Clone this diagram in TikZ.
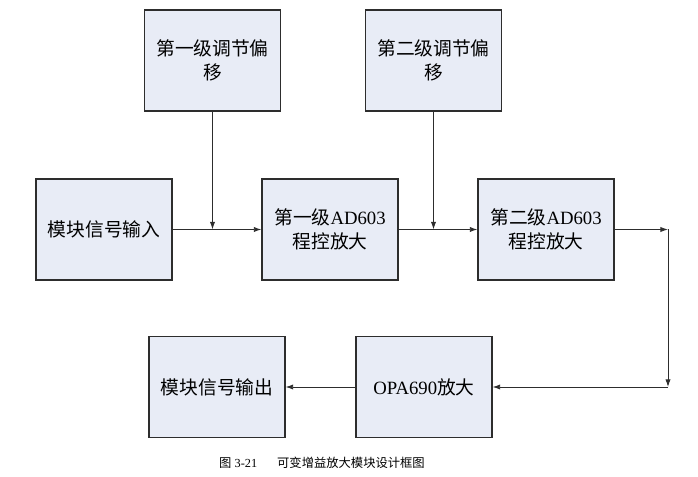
\documentclass[tikz,border=0pt]{standalone}
\usepackage{fontspec}
\setmainfont{Liberation Serif}
\newfontfamily\cjk{Noto Sans CJK SC}
\newfontfamily\lat{Liberation Serif}
\usetikzlibrary{arrows.meta}
\definecolor{boxfill}{RGB}{232,236,246}
\definecolor{boxline}{RGB}{45,45,45}
\tikzset{
  blockbox/.style={draw=boxline,line width=1pt,fill=boxfill,minimum width=40.8mm,minimum height=30.3mm,inner sep=0pt,align=center,font=\fontsize{16}{20.5}\selectfont\cjk},
  sig/.style={draw=boxline,line width=0.8pt,-{Latex[length=6.5pt,width=4.5pt]}}
}
\begin{document}
\begin{tikzpicture}[x=0.3mm,y=-0.3mm]
\useasboundingbox (0,0) rectangle (698,477);
\draw (212.5,60.5) node[blockbox](offsetone) {第一级调节偏\\移};
\draw (433.5,60.5) node[blockbox](offsettwo) {第二级调节偏\\移};
\draw (104,229.5) node[blockbox](sigin) {模块信号输入};
\draw (330,229.5) node[blockbox](ampone) {第一级{\lat AD603}\\程控放大};
\draw (546,229.5) node[blockbox](amptwo) {第二级{\lat AD603}\\程控放大};
\draw (424,387) node[blockbox](opa) {{\lat OPA690}放大};
\draw (217,387) node[blockbox](sigout) {模块信号输出};
\coordinate (joinone) at (212.5,229.5);
\coordinate (jointwo) at (433.5,229.5);
\coordinate (turnone) at (668,229.5);
\coordinate (turntwo) at (668,387);
\draw[sig] (sigin) -- (ampone);
\draw[sig] (offsetone) -- (joinone);
\draw[sig] (ampone) -- (amptwo);
\draw[sig] (offsettwo) -- (jointwo);
\draw[sig] (amptwo) -- (turnone);
\draw[sig] (turnone) -- (turntwo);
\draw[sig] (turntwo) -- (opa);
\draw[sig] (opa) -- (sigout);
\draw (322,463) node[font=\fontsize{10.5}{12}\selectfont](caption) {{\cjk 图} {\lat 3-21}\hspace{6mm}{\cjk 可变增益放大模块设计框图}};
\end{tikzpicture}
\end{document}
